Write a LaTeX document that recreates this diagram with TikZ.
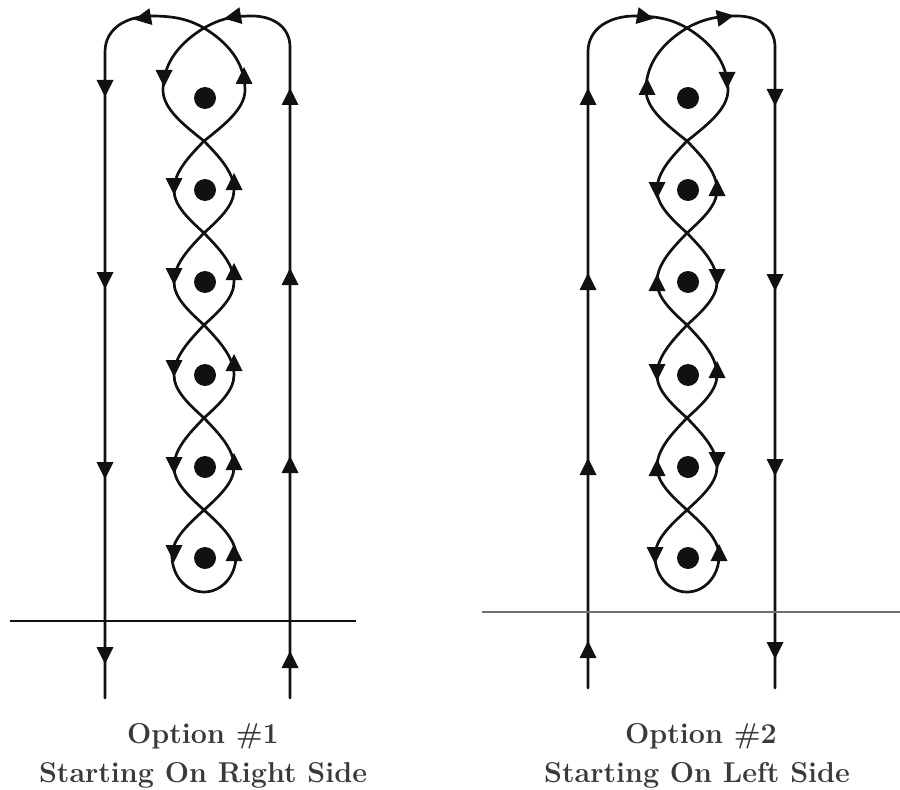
\documentclass[tikz,border=0pt]{standalone}
\usepackage{fontspec}
\definecolor{inkc}{HTML}{111111}
\definecolor{textc}{HTML}{3A3A3A}
\definecolor{rulec2}{HTML}{707070}
\tikzset{
  strand/.style={line width=2.3pt, line cap=round, line join=round, draw=inkc},
  tri/.pic={\fill[inkc] (0,9) -- (-8.5,-8) -- (8.5,-8) -- cycle;},
  lbl/.style={anchor=base, text=textc, font=\fontsize{24.5}{29}\selectfont\bfseries, inner sep=0pt}
}
% #1 left line x, #2 right line x, #3 bottom y
\newcommand\mybraid[3]{%
  \draw[strand] (#1,#3) -- (#1,52) .. controls (#1,28) and ({#1+22},16) .. ({#1+47},16)
     .. controls ({#1+71},16) and (190,20) .. (204,28)
     .. controls (227,42) and (245,62) .. (245,90)
     .. controls (245,108.5) and (225,124.4) .. (204,141);
  \draw[strand] (#2,#3) -- (#2,47) .. controls (#2,27) and ({#2-17},16) .. ({#2-38},16)
     .. controls ({#2-60},16) and (218,20) .. (204,28)
     .. controls (181,42) and (163,62) .. (163,90)
     .. controls (163,108.5) and (183,124.4) .. (204,141);
  \foreach \ya/\ym/\yb in {141/190/233, 233/282/325, 325/375/418, 418/467/510}{
    \pgfmathsetmacro\hA{\ym-\ya}\pgfmathsetmacro\hB{\yb-\ym}
    \foreach \s in {-1,1}{
      \draw[strand] (204,\ya) .. controls ({204+\s*15.4},{\ya+0.326*\hA}) and ({204+\s*30},{\ya+0.638*\hA}) .. ({204+\s*30},\ym)
        .. controls ({204+\s*30},{\ym+0.362*\hB}) and ({204+\s*15.4},{\ym+0.674*\hB}) .. (204,\yb);
    }
  }
  \draw[strand] (204,510) .. controls (187.6,525) and (172,539.3) .. (172,556)
     .. controls (172,575.9) and (186.3,592) .. (204,592)
     .. controls (221.7,592) and (236,575.9) .. (236,556)
     .. controls (236,539.3) and (220.4,525) .. (204,510);
  \foreach \yy in {98,190,282,375,467,558}{\fill[inkc] (205,\yy) circle[radius=0.33cm];}
}
\begin{document}
\begin{tikzpicture}[x=0.03cm, y=-0.03cm]
\useasboundingbox (0,0) rectangle (900,790);
\fill[white] (0,0) rectangle (900,790);

% ---------- Option 1 ----------
\mybraid{105}{290}{698}
\draw[line width=1.8pt, draw=inkc] (10,621) -- (356,621);
\foreach \yy in {88,280,470,655}{\pic at (105,\yy) {tri};}
\foreach \yy in {97,277,465,660}{\pic[rotate=180] at (290,\yy) {tri};}
\pic[rotate=-80] at (143,18) {tri};
\pic[rotate=-80] at (233,17) {tri};
\foreach \yy in {186,276,368,465,553}{\pic at (174,\yy) {tri};}
\pic at (164,78) {tri};
\pic[rotate=180] at (244,76) {tri};
\foreach \yy in {182,272,363,462,553}{\pic[rotate=180] at (234,\yy) {tri};}
\node[lbl] (o1a) at (203,743) {Option \#1};
\node[lbl] (o1b) at (203,782) {Starting On Right Side};

% ---------- Option 2 ----------
\begin{scope}[shift={(483,0)}]
\mybraid{105}{292}{688}
\foreach \yy in {97,282,467,650}{\pic[rotate=180] at (105,\yy) {tri};}
\foreach \yy in {97,282,467,650}{\pic at (292,\yy) {tri};}
\pic[rotate=80] at (162,17) {tri};
\pic[rotate=100] at (242,17) {tri};
\pic[rotate=180] at (164,87) {tri};
\pic at (244,80) {tri};
\pic at (174,190) {tri};
\pic[rotate=180] at (234,188) {tri};
\pic[rotate=180] at (174,283) {tri};
\pic at (234,277) {tri};
\pic at (174,372) {tri};
\pic[rotate=180] at (234,370) {tri};
\pic[rotate=180] at (174,468) {tri};
\pic at (234,460) {tri};
\pic at (172,555) {tri};
\pic[rotate=180] at (236,553) {tri};
\end{scope}
\draw[line width=1.8pt, draw=rulec2] (482,612) -- (900,612);
\node[lbl] (o2a) at (701,743) {Option \#2};
\node[lbl] (o2b) at (697,782) {Starting On Left Side};
\end{tikzpicture}
\end{document}
